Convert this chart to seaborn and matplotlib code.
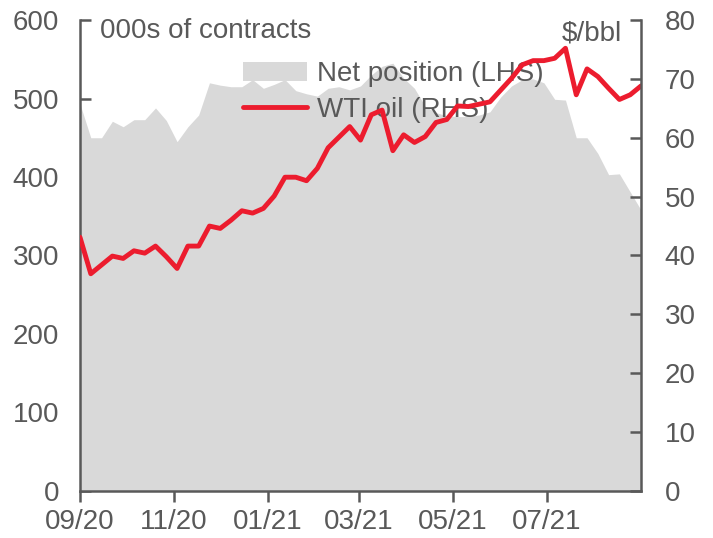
import matplotlib
matplotlib.use("Agg")
import matplotlib.pyplot as plt
import matplotlib.dates as mdates
from matplotlib.patches import Patch
from matplotlib.lines import Line2D
import numpy as np
import pandas as pd
import seaborn as sns

# weekly observations, Sep 2020 - Aug 2021
start_date = "2020-09-01"
n_weeks = 53

# net non-commercial position, 000s of contracts (LHS)
net_position = [493, 450, 450, 471, 464, 473, 473, 488, 472, 445,
                464, 479, 520, 517, 515, 515, 524, 513, 518, 524,
                510, 506, 503, 513, 515, 511, 516, 530, 541, 545,
                526, 513, 490, 482, 478, 477, 477, 479, 483, 502,
                516, 524, 525, 520, 499, 498, 450, 450, 430, 403,
                404, 381, 358]

# WTI oil price, $/bbl (RHS)
wti_oil = [43.1, 36.9, 38.4, 39.9, 39.5, 40.8, 40.4, 41.6, 39.8, 37.8,
           41.6, 41.6, 45.0, 44.6, 46.0, 47.6, 47.2, 48.0, 50.1, 53.3,
           53.3, 52.7, 54.8, 58.3, 60.1, 61.9, 59.6, 63.9, 64.7, 57.8,
           60.5, 59.2, 60.2, 62.6, 63.1, 65.4, 65.3, 65.7, 66.1, 68.1,
           70.1, 72.4, 73.1, 73.1, 73.5, 75.2, 67.3, 71.7, 70.4, 68.4,
           66.5, 67.3, 68.8]

tick_dates = ["2020-09-01", "2020-11-01", "2021-01-01",
              "2021-03-01", "2021-05-01", "2021-07-01"]

dates = pd.date_range(start_date, periods=n_weeks, freq="7D")
df = pd.DataFrame({"date": dates, "net": net_position, "wti": wti_oil})

sns.set_theme(style="white")
plt.rcParams["font.family"] = ["Liberation Sans", "DejaVu Sans"]

text_col = "#595959"
grey = "#d9d9d9"
red = "#ec1c2e"
fs = 20

fig = plt.figure(figsize=(7.13, 5.38), dpi=100)
ax = fig.add_axes([0.1122, 0.0874, 0.7868, 0.8754])
ax2 = ax.twinx()

ax.fill_between(df["date"], 0, df["net"], color=grey, linewidth=0)
sns.lineplot(data=df, x="date", y="wti", ax=ax2, color=red, linewidth=3.5)

ax.set_xlim(dates[0], dates[-1])
ax.set_ylim(0, 600)
ax2.set_ylim(0, 80)
ax.set_yticks(np.arange(0, 601, 100))
ax2.set_yticks(np.arange(0, 81, 10))
ax.set_xticks(pd.to_datetime(tick_dates))
ax.xaxis.set_major_formatter(mdates.DateFormatter("%m/%y"))

ax.set_xlabel("")
ax.set_ylabel("")
ax2.set_xlabel("")
ax2.set_ylabel("")

for a in (ax, ax2):
    a.spines["top"].set_visible(False)
    for s in a.spines.values():
        s.set_color(text_col)
        s.set_linewidth(1.8)
ax.spines["right"].set_visible(False)
ax2.spines["left"].set_visible(False)
ax2.spines["bottom"].set_visible(False)

ax.tick_params(axis="y", direction="in", length=8, width=1.8, color=text_col,
               labelsize=fs, labelcolor=text_col, pad=15, left=True)
ax2.tick_params(axis="y", direction="in", length=8, width=1.8, color=text_col,
                labelsize=fs, labelcolor=text_col, pad=17, right=True)
ax.tick_params(axis="x", direction="out", length=8, width=1.8, color=text_col,
               labelsize=fs, labelcolor=text_col, pad=5, bottom=True)
ax.grid(False)
ax2.grid(False)

ax.text(0.036, 0.977, "000s of contracts", transform=ax.transAxes,
        fontsize=fs, color=text_col, ha="left", va="center")
ax.text(0.966, 0.972, "$/bbl", transform=ax.transAxes,
        fontsize=fs, color=text_col, ha="right", va="center")

handles = [Patch(facecolor=grey, edgecolor="none"),
           Line2D([0], [0], color=red, linewidth=3.5)]
leg = ax.legend(handles, ["Net position (LHS)", "WTI oil (RHS)"],
                loc="upper left", bbox_to_anchor=(0.29, 0.913),
                frameon=False, fontsize=fs, handlelength=2.3,
                handletextpad=0.36, labelspacing=0.36,
                borderpad=0, borderaxespad=0)
for t in leg.get_texts():
    t.set_color(text_col)

ax.set_zorder(ax2.get_zorder() - 1)
ax.patch.set_visible(True)
ax2.patch.set_visible(False)

fig.savefig("out.png", dpi=100)
